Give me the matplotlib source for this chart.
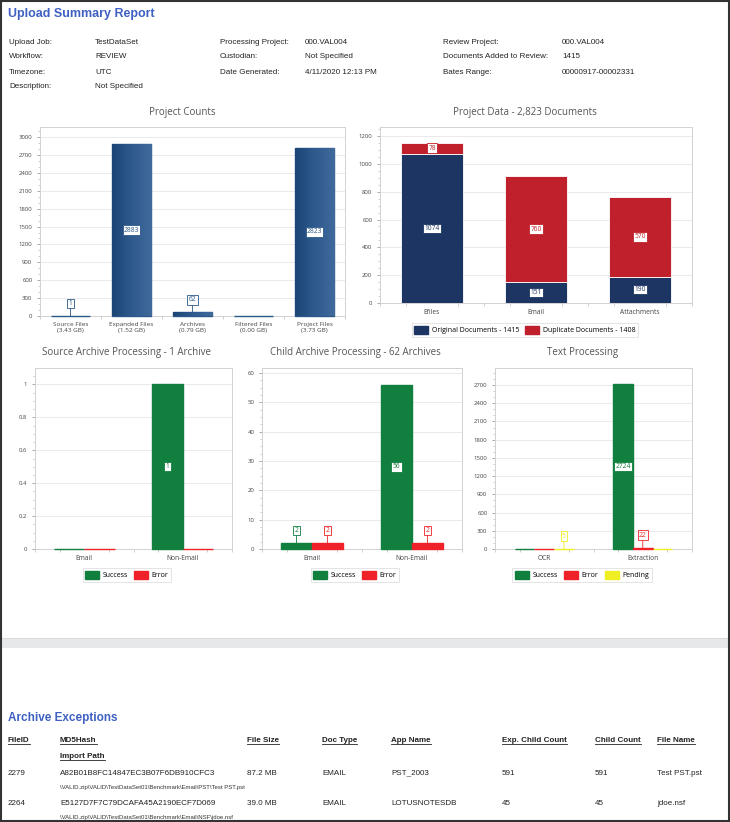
import matplotlib
matplotlib.use("Agg")
import matplotlib.pyplot as plt
import numpy as np
from matplotlib.colors import LinearSegmentedColormap
from matplotlib.patches import Rectangle
from matplotlib.lines import Line2D

# ---------------- data ----------------
report_title = "Upload Summary Report"
meta_col1 = [("Upload Job:", "TestDataSet"), ("Workflow:", "REVIEW"),
             ("Timezone:", "UTC"), ("Description:", "Not Specified")]
meta_col2 = [("Processing Project:", "000.VAL004"), ("Custodian:", "Not Specified"),
             ("Date Generated:", "4/11/2020 12:13 PM")]
meta_col3 = [("Review Project:", "000.VAL004"), ("Documents Added to Review:", "1415"),
             ("Bates Range:", "00000917-00002331")]

pc_categories = ["Source Files\n(3.43 GB)", "Expanded Files\n(1.52 GB)", "Archives\n(0.79 GB)",
                 "Filtered Files\n(0.00 GB)", "Project Files\n(3.73 GB)"]
pc_values = [1, 2883, 62, 0, 2823]

pd_categories = ["Efiles", "Email", "Attachments"]
pd_original = [1074, 151, 190]
pd_duplicate = [78, 760, 570]
pd_legend = ["Original Documents - 1415", "Duplicate Documents - 1408"]

sa_categories = ["Email", "Non-Email"]
sa_success = [0, 1]
sa_error = [0, 0]

ca_categories = ["Email", "Non-Email"]
ca_success = [2, 56]
ca_error = [2, 2]

tp_categories = ["OCR", "Extraction"]
tp_success = [0, 2724]
tp_error = [0, 22]
tp_pending = [5, 0]

exc_headers = ["FileID", "MD5Hash", "File Size", "Doc Type", "App Name",
               "Exp. Child Count", "Child Count", "File Name"]
exc_rows = [
    ["2279", "A82B01B8FC14847EC3B07F6DB910CFC3", "87.2 MB", "EMAIL", "PST_2003", "591", "591", "Test PST.pst"],
    ["2264", "E5127D7F7C79DCAFA45A2190ECF7D069", "39.0 MB", "EMAIL", "LOTUSNOTESDB", "45", "45", "jdoe.nsf"],
]
exc_paths = ["\\VALID.zip\\VALID\\TestDataSet01\\Benchmark\\Email\\PST\\Test PST.pst",
             "\\VALID.zip\\VALID\\TestDataSet01\\Benchmark\\Email\\NSF\\jdoe.nsf"]

# ---------------- style ----------------
W, H = 730, 822
fig = plt.figure(figsize=(W / 100, H / 100), dpi=100)
fig.patch.set_facecolor("white")

RFONT = ["Liberation Sans", "DejaVu Sans"]
CFONT = ["Open Sans", "DejaVu Sans"]
BLUE_T = "#3f60c2"
NAVY = "#1c3563"
DRED = "#c0202b"
GREEN = "#117f3e"
RED = "#ee2228"
YELLOW = "#eeee22"
GRID = "#e6e6e6"
SPINE = "#d2d2d2"


def fx(x):
    return x / W


def fy(y):
    return 1 - y / H


def ftext(x, y, s, **kw):
    kw.setdefault("family", RFONT)
    kw.setdefault("va", "center")
    return fig.text(fx(x), fy(y), s, **kw)


def add_ax(l, t, r, b):
    ax = fig.add_axes([fx(l), fy(b), (r - l) / W, (b - t) / H])
    for s in ax.spines.values():
        s.set_color(SPINE)
        s.set_linewidth(0.7)
    ax.grid(axis="y", color=GRID, lw=0.6)
    ax.set_axisbelow(True)
    ax.tick_params(axis="y", labelsize=4.3, colors="#888888", labelcolor="#444444",
                   length=2.5, width=0.5, pad=3)
    ax.tick_params(axis="x", labelsize=4.8, colors="#888888", labelcolor="#444444",
                   length=0, pad=4)
    ax.tick_params(axis="y", which="minor", length=1.5, width=0.4, colors="#aaaaaa")
    ax.tick_params(axis="x", which="minor", length=2, width=0.4, colors="#aaaaaa")
    return ax


def set_fonts(ax):
    for lab in ax.get_yticklabels() + ax.get_xticklabels():
        lab.set_family(CFONT)


def value_label(ax, x, y, val, color, ylim_top, inside_center=None):
    if val == 0:
        return
    bb = dict(boxstyle="square,pad=0.18", fc="white", ec=color, lw=0.6)
    if inside_center is not None and val >= 0.08 * ylim_top:
        ax.text(x, inside_center, str(val), ha="center", va="center", fontsize=4.8,
                color=color, family=CFONT, bbox=bb, zorder=6)
    else:
        ax.annotate(str(val), xy=(x, y), xytext=(0, 9), textcoords="offset points",
                    ha="center", va="center", fontsize=4.8, color=color, family=CFONT,
                    bbox=bb, zorder=6,
                    arrowprops=dict(arrowstyle="-", color=color, lw=0.6,
                                    shrinkA=0, shrinkB=0))


def small_legend(handles_labels, cx, cy, ncol):
    handles = [Rectangle((0, 0), 1, 1, fc=c, ec=c) for c, _ in handles_labels]
    labels = [l for _, l in handles_labels]
    leg = fig.legend(handles, labels, loc="center", bbox_to_anchor=(fx(cx), fy(cy)),
                     bbox_transform=fig.transFigure, ncol=ncol,
                     frameon=True, fancybox=False, edgecolor="#d8d8d8",
                     handlelength=2.0, handleheight=1.3, handletextpad=0.5,
                     columnspacing=0.9, borderpad=0.4, prop={"family": CFONT, "size": 5.0})
    leg.get_frame().set_linewidth(0.6)
    return leg


# ---------------- header ----------------
ftext(8, 14, report_title, fontsize=9, weight="bold", color=BLUE_T)
rows_y = [42, 57, 72, 86]
for (lab, val), y in zip(meta_col1, rows_y):
    ftext(9, y, lab, fontsize=5.8, color="#222222")
    ftext(95, y, val, fontsize=5.8, color="#222222")
for (lab, val), y in zip(meta_col2, rows_y):
    ftext(220, y, lab, fontsize=5.8, color="#222222")
    ftext(305, y, val, fontsize=5.8, color="#222222")
for (lab, val), y in zip(meta_col3, rows_y):
    ftext(443, y, lab, fontsize=5.8, color="#222222")
    ftext(562, y, val, fontsize=5.8, color="#222222")

# ---------------- Project Counts ----------------
ax = add_ax(40, 127, 345, 316)
xp = np.arange(len(pc_values))
bars = ax.bar(xp, pc_values, width=0.64, color="#2a5889", edgecolor="#2a5889", lw=1.0,
              zorder=3, clip_on=False)
cmap = LinearSegmentedColormap.from_list("bg", ["#1c4576", "#2f5a8d", "#41699c"])
grad = np.linspace(0, 1, 64).reshape(1, -1)
for p in bars:
    x0, w, h = p.get_x(), p.get_width(), p.get_height()
    if h > 5:
        im = ax.imshow(grad, extent=[x0, x0 + w, 0, h], aspect="auto", cmap=cmap, zorder=4)
        im.set_clip_path(p)
ax.set_xlim(-0.5, len(pc_values) - 0.5)
ax.set_ylim(0, 3170)
ax.set_yticks(np.arange(0, 3001, 300))
ax.set_yticks(np.arange(0, 3170, 100), minor=True)
ax.set_xticks(xp)
ax.set_xticklabels(pc_categories, fontsize=4.6, linespacing=1.35)
ax.set_xticks(np.arange(-0.5, len(pc_values), 0.5), minor=True)
set_fonts(ax)
for i, v in enumerate(pc_values):
    value_label(ax, i, v, v, "#2a5889", 3170, inside_center=v / 2)
ftext(182, 112, "Project Counts", fontsize=7, color="#555555", ha="center", family=CFONT)

# ---------------- Project Data ----------------
ax = add_ax(380, 127, 692, 303)
xd = np.arange(len(pd_categories))
ax.bar(xd, pd_original, width=0.6, color=NAVY, edgecolor="white", lw=0.6, zorder=3)
ax.bar(xd, pd_duplicate, bottom=pd_original, width=0.6, color=DRED, edgecolor="white", lw=0.6, zorder=3)
ax.set_xlim(-0.5, 2.5)
ax.set_ylim(0, 1265)
ax.set_yticks(np.arange(0, 1201, 200))
ax.set_yticks(np.arange(0, 1265, 50), minor=True)
ax.set_xticks(xd)
ax.set_xticklabels(pd_categories)
ax.set_xticks(np.arange(-0.5, 2.6, 0.25), minor=True)
set_fonts(ax)
for i in range(len(pd_categories)):
    o, d = pd_original[i], pd_duplicate[i]
    value_label(ax, i, o, o, NAVY, 100, inside_center=o / 2)
    value_label(ax, i, o + d, d, DRED, 100, inside_center=o + d / 2)
ftext(525, 112, "Project Data - 2,823 Documents", fontsize=7, color="#555555", ha="center", family=CFONT)
small_legend([(NAVY, pd_legend[0]), (DRED, pd_legend[1])], 525, 330, 2)


# ---------------- grouped charts ----------------
def grouped(l, t, r, b, cats, series, colors, width, offsets, ylim, yticks, yminor,
            xlim, title, tx, ty, ytl=None):
    ax = add_ax(l, t, r, b)
    xc = np.arange(len(cats))
    for vals, col, off in zip(series, colors, offsets):
        ax.bar(xc + off, vals, width=width, color=col, edgecolor=col, lw=1.0, zorder=3,
               clip_on=False)
        for i, v in enumerate(vals):
            value_label(ax, i + off, v, v, col, ylim, inside_center=v / 2)
    ax.set_xlim(*xlim)
    ax.set_ylim(0, ylim)
    ax.set_yticks(yticks)
    if ytl is not None:
        ax.set_yticklabels(ytl)
    ax.set_yticks(yminor, minor=True)
    ax.set_xticks(xc)
    ax.set_xticklabels(cats)
    ax.set_xticks(np.arange(-0.5, 1.6, 0.25), minor=True)
    set_fonts(ax)
    ftext(tx, ty, title, fontsize=7, color="#555555", ha="center", family=CFONT)
    return ax


grouped(35, 368, 232, 549, sa_categories, [sa_success, sa_error], [GREEN, RED], 0.31,
        [-0.155, 0.155], 1.1, np.arange(0, 1.01, 0.2), np.arange(0, 1.1, 0.05), (-0.5, 1.5),
        "Source Archive Processing - 1 Archive", 127, 353,
        ytl=["0", "0.2", "0.4", "0.6", "0.8", "1"])
small_legend([(GREEN, "Success"), (RED, "Error")], 127, 575, 2)

grouped(262, 368, 462, 549, ca_categories, [ca_success, ca_error], [GREEN, RED], 0.31,
        [-0.155, 0.155], 61.7, np.arange(0, 61, 10), np.arange(0, 61.7, 2.5), (-0.5, 1.5),
        "Child Archive Processing - 62 Archives", 355, 353)
small_legend([(GREEN, "Success"), (RED, "Error")], 355, 575, 2)

grouped(495, 368, 692, 549, tp_categories, [tp_success, tp_error, tp_pending],
        [GREEN, RED, YELLOW], 0.2, [-0.2, 0.0, 0.2], 2980, np.arange(0, 2701, 300),
        np.arange(0, 2980, 100), (-0.48, 1.37), "Text Processing", 583, 353)
small_legend([(GREEN, "Success"), (RED, "Error"), (YELLOW, "Pending")], 582, 575, 3)

# ---------------- separator ----------------
fig.patches.append(Rectangle((0, fy(648)), 1, 10 / H, transform=fig.transFigure,
                             fc="#e6e8ea", ec="none", zorder=0))
fig.lines.append(Line2D([0, 1], [fy(638), fy(638)], transform=fig.transFigure,
                        color="#d6d8da", lw=0.6))

# ---------------- Archive Exceptions ----------------
ftext(8, 718, "Archive Exceptions", fontsize=8.5, weight="bold", color=BLUE_T)
col_x = [8, 60, 247, 322, 391, 502, 595, 657]
header_texts = []
for hx, h in zip(col_x, exc_headers):
    header_texts.append(ftext(hx, 740, h, fontsize=5.8, weight="bold", color="#222222"))
header_texts.append(ftext(60, 756, "Import Path", fontsize=5.8, weight="bold", color="#222222"))
row_y = [773, 803]
for ry, row, path in zip(row_y, exc_rows, exc_paths):
    for hx, v in zip(col_x, row):
        ftext(hx, ry, v, fontsize=5.8, color="#222222")
    ftext(60, ry + 14, path, fontsize=4.3, color="#333333")

fig.canvas.draw()
rend = fig.canvas.get_renderer()
for t in header_texts:
    bb = t.get_window_extent(rend)
    yl = bb.y0 - 0.5
    fig.lines.append(Line2D([bb.x0 / W, bb.x1 / W], [yl / H, yl / H],
                            transform=fig.transFigure, color="#222222", lw=0.6))

# outer border
fig.patches.append(Rectangle((0.001, 0.001), 0.997, 0.998, transform=fig.transFigure,
                             fill=False, ec="#333333", lw=1.5, zorder=10))

fig.savefig("out.png", dpi=100)
